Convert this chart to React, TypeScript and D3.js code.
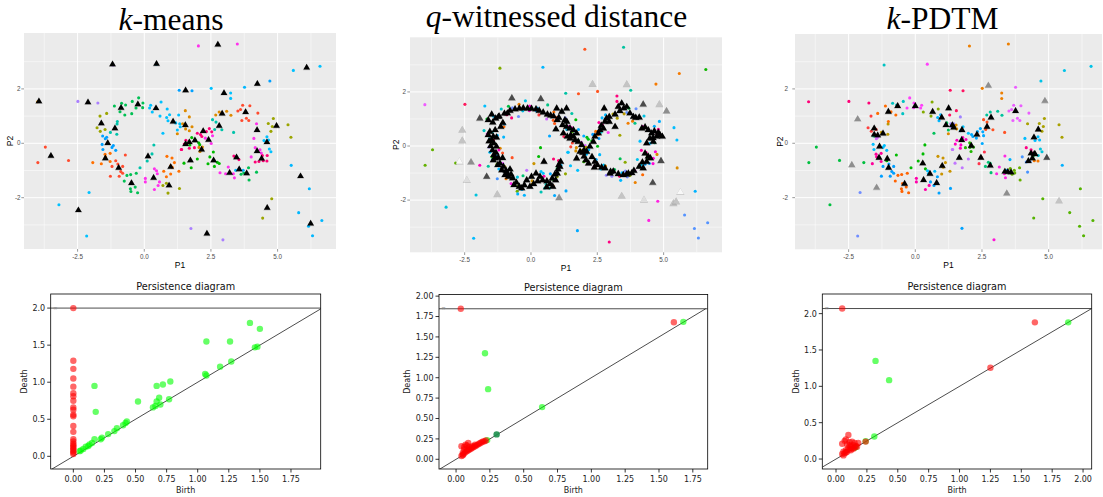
import React from 'react';
import * as d3 from 'd3';

// ggplot hue families used by the k-means labels (degrees in HCL)
const HUE: Record<string, number> = {
  sal: 15, ora: 40, gol: 58, oli: 75, lim: 100, gre: 135, eme: 158,
  tea: 185, cya: 215, blu: 245, lav: 275, mag: 300, pin: 335,
};

// Shared point cloud with its k-means cluster colour family
const points: [number, number, string][] = [
  [1.31, 1.95, 'lav'], [-2.49, 1.54, 'mag'], [-1.74, 1.48, 'mag'],
  [-1.12, 1.37, 'eme'], [-0.85, 1.47, 'eme'], [-0.70, 1.41, 'eme'], [-0.45, 1.54, 'eme'], [-0.21, 1.67, 'eme'],
  [-0.05, 1.48, 'eme'], [-0.31, 1.30, 'eme'], [-0.06, 1.31, 'eme'], [-0.91, 1.16, 'eme'], [-0.73, 1.04, 'eme'], [-0.47, 1.09, 'eme'],
  [0.24, 1.40, 'cya'], [0.20, 1.30, 'cya'], [0.30, 1.15, 'cya'], [0.63, 1.52, 'cya'], [0.86, 1.26, 'cya'], [0.95, 1.05, 'cya'],
  [0.59, 1.00, 'cya'], [0.84, 0.95, 'cya'], [0.89, 0.83, 'cya'], [1.29, 1.04, 'cya'], [1.18, 0.75, 'cya'], [1.33, 0.72, 'cya'],
  [1.35, 0.61, 'cya'], [1.24, 0.49, 'cya'], [0.70, 0.37, 'cya'],
  [1.24, 0.35, 'oli'],
  [-1.66, 1.00, 'lim'], [-1.41, 1.10, 'lim'], [-1.77, 0.57, 'lim'], [-1.65, 0.44, 'lim'], [-1.47, 0.51, 'lim'],
  [-1.01, 0.80, 'tea'], [-1.02, 0.71, 'tea'], [-1.03, 0.33, 'tea'], [-1.27, 0.40, 'tea'], [0.36, -0.06, 'tea'],
  [0.29, -0.39, 'tea'], [0.11, -0.65, 'tea'], [-0.16, -0.90, 'tea'],
  [-1.56, 0.27, 'lav'], [-1.41, 0.22, 'lav'], [-1.46, 0.17, 'lav'], [-1.58, -0.04, 'lav'], [-1.55, -0.23, 'lav'],
  [-1.16, -0.08, 'lav'], [-1.21, -0.15, 'lav'], [-1.07, -0.26, 'lav'],
  [-1.47, -0.40, 'gol'], [-1.28, -0.37, 'gol'], [-1.45, -0.50, 'gol'], [-1.28, -0.67, 'gol'], [-1.61, -0.75, 'gol'], [-1.93, -0.71, 'gol'],
  [-1.07, -0.64, 'ora'], [-0.99, -0.76, 'ora'], [-0.81, -0.85, 'ora'], [-1.21, -0.85, 'ora'], [-0.88, -1.04, 'ora'],
  [-0.81, -1.10, 'ora'], [-1.27, -1.21, 'ora'], [-0.94, -1.21, 'ora'], [-0.71, -0.43, 'ora'],
  [-3.71, -0.14, 'ora'], [-3.99, -0.71, 'ora'], [-2.84, -0.63, 'ora'],
  [-0.51, -1.15, 'eme'], [-0.65, -1.18, 'eme'], [-0.30, -1.10, 'eme'], [-0.75, -1.39, 'eme'], [-0.48, -1.48, 'eme'],
  [-0.52, -1.67, 'eme'], [-0.34, -1.61, 'eme'], [-0.50, -1.77, 'eme'], [-0.25, -1.82, 'eme'],
  [0.38, -0.94, 'pin'], [0.46, -1.01, 'pin'], [0.49, -1.12, 'pin'], [0.04, -1.29, 'pin'], [0.04, -1.42, 'pin'],
  [0.38, -1.70, 'pin'], [0.57, -1.42, 'pin'], [0.52, -1.55, 'pin'],
  [0.85, -0.48, 'gol'], [1.04, -0.54, 'gol'], [1.13, -0.71, 'gol'], [0.99, -0.83, 'gol'], [1.05, -0.88, 'gol'],
  [0.99, -1.13, 'gol'], [0.73, -1.03, 'gol'], [0.83, -1.23, 'gol'], [1.30, -1.03, 'gol'],
  [0.70, -1.55, 'lim'], [0.83, -1.47, 'lim'], [0.89, -1.83, 'lim'], [1.32, -1.66, 'lim'],
  [-2.07, -1.81, 'cya'], [-3.20, -2.26, 'cya'], [-2.16, -3.41, 'cya'],
  [1.39, -0.23, 'sal'],
  [2.03, 3.58, 'pin'], [3.49, 3.65, 'pin'],
  [5.59, 2.68, 'cya'], [6.59, 2.83, 'cya'],
  [4.71, 2.29, 'lav'], [3.76, 2.06, 'blu'], [1.79, 1.93, 'lav'],
  [2.51, 2.02, 'cya'], [3.24, 1.85, 'cya'], [3.24, 1.65, 'cya'],
  [1.54, 1.20, 'oli'], [1.69, 0.97, 'oli'],
  [3.69, 1.40, 'ora'], [3.96, 1.38, 'ora'], [3.61, 1.24, 'ora'], [3.51, 1.19, 'ora'], [4.26, 1.11, 'ora'],
  [3.66, 0.84, 'ora'], [3.83, 0.92, 'ora'], [3.92, 0.84, 'ora'],
  [2.68, 1.04, 'oli'], [2.81, 1.15, 'oli'], [3.09, 1.18, 'oli'], [3.25, 1.03, 'oli'],
  [2.56, 0.87, 'tea'], [2.69, 0.78, 'tea'], [2.64, 0.51, 'tea'], [2.91, 0.50, 'tea'], [3.35, 0.40, 'tea'],
  [1.44, 0.72, 'oli'], [1.53, 0.67, 'oli'], [1.79, 0.61, 'oli'], [1.69, 0.46, 'oli'], [1.55, 0.53, 'oli'],
  [1.99, 0.37, 'sal'], [2.11, 0.32, 'sal'], [2.44, 0.54, 'sal'], [2.53, 0.42, 'sal'], [2.33, 0.43, 'sal'],
  [2.16, 0.25, 'sal'], [1.56, 0.11, 'sal'], [1.50, -0.03, 'sal'], [1.88, -0.16, 'sal'], [1.69, -0.18, 'sal'], [1.40, -0.23, 'sal'],
  [2.29, 0.19, 'pin'], [2.56, 0.28, 'pin'], [2.51, -0.01, 'pin'],
  [1.78, 0.21, 'gre'], [1.90, 0.14, 'gre'], [2.04, 0.02, 'gre'], [2.08, -0.05, 'gre'], [1.71, -0.06, 'gre'],
  [2.05, -0.15, 'oli'], [2.18, -0.14, 'oli'], [2.09, -0.30, 'oli'],
  [2.59, -0.32, 'gre'], [2.46, -0.50, 'gre'], [1.99, -0.58, 'gre'], [1.76, -0.90, 'gre'], [1.49, -0.73, 'gre'],
  [2.39, -0.75, 'gre'], [2.63, -0.85, 'gre'], [2.74, -0.70, 'gre'], [2.81, -0.74, 'gre'],
  [3.63, -1.14, 'eme'], [3.73, -1.09, 'eme'], [3.91, -0.90, 'eme'], [3.93, -1.35, 'eme'], [4.21, -1.06, 'eme'],
  [3.43, -0.99, 'blu'], [3.56, -0.93, 'blu'], [3.71, -0.99, 'blu'],
  [3.15, -0.87, 'pin'], [2.84, -1.08, 'pin'], [3.05, -1.12, 'pin'], [3.34, -1.12, 'pin'], [3.38, -1.27, 'pin'],
  [4.01, -0.50, 'pin'], [4.16, -0.16, 'pin'], [4.34, -0.24, 'pin'], [4.39, -0.36, 'pin'],
  [3.36, -0.47, 'sal'], [3.55, -0.60, 'sal'], [4.16, -0.69, 'sal'], [4.30, -0.67, 'sal'], [4.46, -0.64, 'sal'],
  [4.60, -0.65, 'sal'], [4.43, -0.45, 'sal'], [4.61, -0.45, 'sal'],
  [4.21, 0.72, 'pin'], [4.11, 0.18, 'pin'],
  [4.65, 0.73, 'lim'], [4.84, 0.91, 'lim'], [4.80, 0.62, 'lim'], [4.75, 0.44, 'lim'], [5.39, 0.68, 'lim'], [5.50, 0.22, 'lim'],
  [4.60, 0.24, 'cya'], [4.49, 0.10, 'cya'], [4.66, 0.12, 'cya'], [4.69, -0.21, 'cya'], [4.75, -0.31, 'cya'],
  [5.51, -0.81, 'blu'], [6.19, -1.67, 'blu'], [5.79, -2.55, 'blu'], [6.66, -2.84, 'blu'], [6.16, -3.05, 'blu'], [6.31, -3.40, 'blu'],
  [4.78, -2.04, 'lim'], [4.44, -2.75, 'lim'],
  [1.75, -3.13, 'mag'], [2.95, -3.55, 'mag'],
  [-1.17, 2.88, 'mag'], [0.45, 2.91, 'cya'], [-4.0, 1.53, 'oli'],
];

const kmeansCenters: [number, number][] = [
  [-1.19, 2.90], [0.46, 2.92], [-3.95, 1.54], [-2.11, 1.51], [-0.24, 1.43], [-0.87, 1.30], [0.44, 1.29],
  [-1.61, 0.73], [-1.10, 0.55], [1.08, 0.80], [-1.37, 0.01], [-3.50, -0.46], [-1.46, -0.55], [0.14, -0.48],
  [-0.96, -0.90], [0.99, -0.87], [0.35, -1.27], [0.93, -1.55], [-0.48, -1.46], [-2.47, -2.46],
  [2.76, 3.63], [6.09, 2.78], [4.24, 2.19], [1.55, 1.95], [2.99, 1.85], [3.80, 1.15], [2.92, 1.09], [2.81, 0.64],
  [4.96, 0.64], [4.23, 0.49], [1.54, 0.67], [2.21, 0.45], [2.41, 0.13], [1.90, 0.11], [1.69, 0.04], [1.55, -0.03],
  [2.15, -0.23], [4.60, 0.04], [4.23, -0.29], [1.73, -0.63], [2.60, -0.63], [3.46, -0.52], [4.40, -0.56],
  [3.56, -0.96], [3.20, -1.09], [3.84, -1.10], [5.86, -1.21], [4.61, -2.37], [6.24, -2.95], [2.35, -3.32],
];

// [x, y, shade index] (0 = black ... 5 = white)
const witnessTriangles: [number, number, number][] = [
  [-0.89, 1.21, 0], [-0.79, 1.31, 0], [-0.60, 1.36, 0], [-0.44, 1.39, 0], [-0.29, 1.40, 0], [-0.13, 1.39, 0],
  [0.02, 1.38, 0], [0.19, 1.36, 0], [0.31, 1.31, 0], [0.46, 1.24, 0], [0.62, 1.17, 0], [0.74, 1.13, 0],
  [-1.48, 1.17, 0], [-1.33, 1.02, 0], [-1.44, 0.87, 0], [-1.06, 0.86, 0], [-1.14, 0.71, 0], [-1.55, 0.53, 0],
  [-1.61, 0.41, 0], [-1.42, 0.35, 0], [-1.30, 0.32, 0], [-1.48, 0.22, 0], [-1.40, 0.10, 0], [-1.52, 0.00, 0],
  [-1.30, -0.02, 0], [-1.45, -0.15, 0], [-1.32, -0.25, 0], [-1.40, -0.33, 0], [-1.23, -0.43, 0], [-1.07, -0.44, 0],
  [-1.42, -0.52, 0], [-1.17, -0.64, 0], [-1.04, -0.76, 0], [-1.10, -0.89, 0], [-0.94, -0.91, 0], [-0.79, -0.86, 0],
  [-0.98, -1.07, 0], [-0.85, -1.13, 0], [-0.69, -1.19, 0], [-0.64, -1.44, 0], [-0.44, -1.50, 0], [-0.35, -1.56, 0],
  [-0.04, -1.50, 0], [-0.16, -1.26, 0], [0.02, -1.13, 0], [0.19, -1.01, 0], [0.34, -1.13, 0], [0.44, -1.26, 0],
  [0.49, -0.58, 0], [0.72, -1.40, 0], [0.82, -1.50, 0], [0.59, -1.52, 0], [0.93, -1.26, 0], [0.99, -1.01, 0],
  [1.09, -0.76, 0], [1.12, -0.58, 0], [1.02, -0.86, 0],
  [1.28, 0.96, 0], [1.19, 0.78, 0], [1.34, 0.71, 0], [1.47, 0.65, 0], [1.60, 0.59, 0], [1.72, 0.47, 0],
  [1.66, 0.22, 0], [1.78, 0.16, 0], [1.91, 0.04, 0], [2.00, -0.15, 0], [2.10, -0.21, 0], [2.22, -0.02, 0],
  [2.35, 0.16, 0], [2.41, 0.35, 0], [2.54, 0.47, 0], [2.60, 0.59, 0], [2.73, 0.65, 0], [2.79, 0.90, 0],
  [2.85, 1.02, 0], [1.22, 0.47, 0], [1.37, 0.35, 0], [1.47, 0.28, 0], [1.85, -0.21, 0], [1.72, -0.46, 0],
  [2.00, -0.39, 0], [2.17, -0.64, 0], [0.94, 0.62, 0], [0.99, 0.96, 0], [1.34, 1.39, 0], [2.76, 1.39, 0],
  [3.17, 0.71, 0], [3.29, 1.45, 0], [3.42, 1.58, 0], [3.61, 1.45, 0], [3.73, 1.21, 0], [3.86, 1.08, 0],
  [4.08, 1.06, 0], [4.18, 0.65, 0], [4.42, 0.59, 0], [4.55, 0.47, 0], [4.48, 0.28, 0], [4.61, 0.16, 0],
  [4.74, 0.35, 0], [4.86, 0.41, 0], [4.36, 0.10, 0], [4.30, -0.27, 0], [4.42, -0.39, 0], [4.36, -0.58, 0],
  [4.23, -0.82, 0], [4.08, -0.76, 0], [3.88, -0.91, 0], [3.67, -1.01, 0], [3.48, -1.07, 0], [3.29, -1.03, 0],
  [3.10, -0.94, 0], [2.98, -1.01, 0], [2.79, -0.82, 0], [2.66, -0.79, 0], [2.39, -0.79, 0], [2.07, -0.52, 0],
  [2.41, -0.58, 0], [0.97, 1.39, 0], [1.16, 1.27, 0], [2.95, 1.08, 0], [3.17, 1.17, 0], [4.95, 0.35, 0], [4.80, 0.50, 0],
  [-1.61, 0.96, 0], [-1.23, 1.08, 0], [-1.35, 0.59, 0], [-1.58, 0.18, 0], [-1.35, -0.45, 0], [-1.25, -0.70, 0],
  [-0.90, -1.00, 0], [-0.75, -1.05, 0], [-0.55, -1.35, 0], [-0.25, -1.45, 0], [0.10, -1.40, 0], [0.25, -1.30, 0],
  [0.60, -1.30, 0], [0.80, -1.20, 0], [0.90, -1.05, 0], [1.05, -0.70, 0], [1.50, 0.40, 0], [1.60, 0.35, 0],
  [1.95, -0.25, 0], [2.30, -0.40, 0], [2.50, -0.70, 0], [3.00, -0.95, 0], [3.60, -1.05, 0], [3.80, -1.00, 0],
  [4.20, -0.60, 0], [4.50, -0.45, 0], [4.60, 0.30, 0], [4.65, 0.55, 0], [4.30, 0.70, 0], [3.95, 1.05, 0],
  [3.50, 1.40, 0], [3.35, 1.30, 0], [2.95, 0.90, 0], [2.65, 0.75, 0], [1.35, 0.90, 0], [1.05, 1.05, 0],
  [0.85, 1.10, 0], [-1.00, 1.20, 0], [-1.20, 1.10, 0],
  [-0.72, 1.77, 1], [0.37, 1.74, 1], [-1.93, 1.02, 1], [-1.67, -1.13, 1], [4.59, -1.36, 1], [4.90, -0.55, 1], [4.23, 1.54, 1],
  [-2.26, -0.60, 2], [5.11, 1.29, 2], [1.06, -1.92, 2],
  [2.32, 2.29, 3], [3.61, 2.28, 3], [-2.59, 0.59, 3], [-2.59, 0.20, 3], [-1.27, -1.79, 3], [3.42, -1.85, 3],
  [5.37, -2.12, 3], [5.47, -2.06, 3], [4.84, 1.54, 3],
  [-2.42, -1.26, 4], [4.26, -1.99, 4],
  [-2.70, -0.58, 5], [5.63, -1.71, 5],
];

const pdtmTriangles: [number, number, number][] = [
  [-2.16, 0.89, 2], [-2.38, -0.80, 2], [-1.45, -1.63, 2], [2.74, 2.12, 2], [4.86, 1.56, 2], [3.43, -1.84, 2],
  [5.39, -2.12, 3], [4.93, -0.53, 1],
  [-1.54, 0.55, 0], [-1.54, 0.32, 0], [-1.41, 0.29, 0], [-1.21, 0.36, 0], [-1.34, -0.12, 0], [-1.36, -0.53, 0],
  [-1.05, -0.57, 0], [-1.00, -0.90, 0], [-1.01, 1.16, 0], [-0.66, 1.37, 0], [0.00, 1.37, 0], [0.65, 1.16, 0],
  [0.99, 0.95, 0], [1.25, 1.29, 0], [1.15, 0.67, 0], [1.39, 0.67, 0], [1.44, 0.58, 0], [1.75, 0.49, 0],
  [1.74, 0.12, 0], [2.10, -0.09, 0], [2.31, 0.32, 0], [2.69, 0.61, 0], [2.84, 0.95, 0], [3.76, 1.19, 0],
  [4.61, 0.51, 0], [4.45, 0.22, 0], [4.34, -0.37, 0], [4.46, -0.39, 0], [4.24, -0.65, 0], [4.39, -0.55, 0],
  [4.49, -0.40, 0], [3.36, -1.04, 0], [3.59, -1.07, 0], [3.47, -1.05, 0], [2.46, -0.53, 0], [2.81, -0.82, 0],
  [1.65, -0.53, 0], [1.01, -0.83, 0], [0.55, -1.12, 0], [0.31, -1.35, 0], [0.28, -0.74, 0], [0.80, -1.46, 0],
  [-0.40, -1.49, 0],
];

const scatterXTicks = [-2.5, 0, 2.5, 5];
const scatterXLabels = ['-2.5', '0.0', '2.5', '5.0'];
const scatterXMinor = [-3.75, -1.25, 1.25, 3.75, 6.25];
const scatterYTicks = [-2, 0, 2];
const scatterYLabels = ['-2', '0', '2'];
const scatterYMinor = [-3, -1, 1, 3];

// Persistence diagrams: [birth, death]; Infinity = essential class
const pd1H0: [number, number][] = [
  [0, Infinity], [0, 1.29], [0, 1.18], [0, 1.05], [0, 0.94], [0, 0.85], [0, 0.81], [0, 0.75], [0, 0.66],
  [0, 0.63], [0, 0.56], [0, 0.54], [0, 0.41], [0, 0.33], [0, 0.23], [0, 0.20], [0, 0.17], [0, 0.15],
  [0, 0.13], [0, 0.11], [0, 0.09], [0, 0.07], [0, 0.05], [0, 0.03],
];
const pd1H1: [number, number][] = [
  [0.17, 0.95], [0.18, 0.60], [0.52, 0.74], [0.67, 0.95], [0.72, 0.97], [0.78, 1.01], [1.07, 1.55], [1.26, 1.55],
  [1.42, 1.80], [1.50, 1.72], [1.46, 1.47], [1.48, 1.48], [1.27, 1.28], [1.18, 1.21], [1.07, 1.09], [1.06, 1.11],
  [0.77, 0.77], [0.69, 0.79], [0.67, 0.74], [0.66, 0.68], [0.64, 0.66], [0.70, 0.70], [0.43, 0.47], [0.42, 0.45],
  [0.40, 0.42], [0.35, 0.38], [0.33, 0.34], [0.28, 0.30], [0.23, 0.25], [0.22, 0.23], [0.17, 0.23], [0.15, 0.18],
  [0.13, 0.16], [0.12, 0.14], [0.10, 0.13], [0.08, 0.10], [0.06, 0.08], [0.05, 0.07],
];
const pd2H0: [number, number][] = [
  [0.035, Infinity], [1.61, 1.68],
  [0.04, 0.16], [0.06, 0.15], [0.07, 0.18], [0.09, 0.20], [0.08, 0.17], [0.10, 0.15], [0.05, 0.08], [0.05, 0.05],
  [0.06, 0.07], [0.07, 0.09], [0.08, 0.10], [0.09, 0.11], [0.10, 0.12], [0.11, 0.13], [0.12, 0.14], [0.13, 0.15],
  [0.14, 0.16], [0.15, 0.17], [0.16, 0.18], [0.17, 0.19], [0.18, 0.20], [0.19, 0.21], [0.20, 0.22], [0.21, 0.22],
  [0.22, 0.23], [0.06, 0.12], [0.08, 0.13], [0.12, 0.16], [0.14, 0.18], [0.04, 0.04], [0.05, 0.06],
];
const pd2H1: [number, number][] = [[0.214, 1.30], [0.237, 0.86], [0.636, 0.64], [1.68, 1.685], [0.23, 0.235]];
const pd2H1dark: [number, number][] = [[0.30, 0.305]];
const pd3H0: [number, number][] = [
  [0.05, Infinity], [1.61, 1.88], [1.25, 1.255], [0.24, 0.24],
  [0.05, 0.21], [0.07, 0.25], [0.08, 0.27], [0.10, 0.33], [0.11, 0.23], [0.13, 0.24], [0.15, 0.22], [0.18, 0.22],
  [0.06, 0.10], [0.07, 0.08], [0.08, 0.12], [0.09, 0.10], [0.10, 0.15], [0.11, 0.13], [0.12, 0.17], [0.13, 0.15],
  [0.14, 0.19], [0.15, 0.16], [0.16, 0.18], [0.17, 0.17], [0.06, 0.05], [0.08, 0.09], [0.12, 0.12], [0.14, 0.14],
  [0.05, 0.07], [0.09, 0.20], [0.11, 0.19],
];
const pd3H1: [number, number][] = [[0.32, 1.35], [0.43, 1.085], [1.88, 1.88], [0.31, 0.31], [0.24, 0.245], [0.15, 0.155], [0.16, 0.165]];

const pdXTicks = [0, 0.25, 0.5, 0.75, 1.0, 1.25, 1.5, 1.75];
const pd3XTicks = [0, 0.25, 0.5, 0.75, 1.0, 1.25, 1.5, 1.75, 2.0];
const pdYTicksHalf = [0, 0.5, 1.0, 1.5, 2.0];
const pdYTicksQuarter = [0, 0.25, 0.5, 0.75, 1.0, 1.25, 1.5, 1.75, 2.0];

const SHADES = ['#000000', '#4a4a4a', '#8e8e8e', '#c4c4c4', '#dedede', '#f8f8f8'];
const SANS = 'Liberation Sans, Arial, sans-serif';
const DEJAVU = 'DejaVu Sans, sans-serif';
const SERIF = 'Liberation Serif, Times New Roman, serif';

const hueColor = (h: number) => d3.hcl(h, 100, 65).formatHex();

function nearestColors(tris: [number, number, number][]) {
  return points.map(([px, py]) => {
    let best = 0;
    let bd = Infinity;
    tris.forEach(([tx, ty], i) => {
      const d = (tx - px) ** 2 + (ty - py) ** 2;
      if (d < bd) { bd = d; best = i; }
    });
    return hueColor((15 + best * 137.508) % 360);
  });
}

type ScatterCfg = {
  id: string; L: number; R: number; T: number; B: number;
  xd: [number, number]; yd: [number, number];
  title: React.ReactNode; titleX: number; titleY: number;
  yLabRight: number; p2x: number; xTickBase: number; p1Base: number;
  triangles: [number, number, number][]; triSize: number; colors: string[];
};

function Scatter({ c }: { c: ScatterCfg }) {
  const x = d3.scaleLinear().domain(c.xd).range([c.L, c.R]);
  const y = d3.scaleLinear().domain(c.yd).range([c.B, c.T]);
  const tri = d3.symbol(d3.symbolTriangle, c.triSize)() || '';
  const triBack = d3.symbol(d3.symbolTriangle, c.triSize * 1.35)() || '';
  return (
    <g>
      <defs>
        <clipPath id={c.id}><rect x={c.L} y={c.T} width={c.R - c.L} height={c.B - c.T} /></clipPath>
      </defs>
      <rect x={c.L} y={c.T} width={c.R - c.L} height={c.B - c.T} fill="#EBEBEB" />
      <g clipPath={`url(#${c.id})`}>
        {scatterXMinor.map((v) => <line key={'xm' + v} x1={x(v)} x2={x(v)} y1={c.T} y2={c.B} stroke="#fff" strokeWidth={0.5} />)}
        {scatterYMinor.map((v) => <line key={'ym' + v} y1={y(v)} y2={y(v)} x1={c.L} x2={c.R} stroke="#fff" strokeWidth={0.5} />)}
        {scatterXTicks.map((v) => <line key={'xM' + v} x1={x(v)} x2={x(v)} y1={c.T} y2={c.B} stroke="#fff" strokeWidth={1} />)}
        {scatterYTicks.map((v) => <line key={'yM' + v} y1={y(v)} y2={y(v)} x1={c.L} x2={c.R} stroke="#fff" strokeWidth={1} />)}
        {points.map((p, i) => (
          <circle key={'p' + i} cx={x(p[0])} cy={y(p[1])} r={1.55} fill={c.colors[i]} />
        ))}
        {c.triangles.map((t, i) => (
          <g key={'t' + i} transform={`translate(${x(t[0])},${y(t[1])})`}>
            <path d={triBack} fill="#000" opacity={0.18} transform="translate(0,0.4)" />
            <path d={tri} fill={SHADES[t[2]]} />
          </g>
        ))}
      </g>
      {scatterXTicks.map((v, i) => (
        <g key={'xt' + v}>
          <line x1={x(v)} x2={x(v)} y1={c.B} y2={c.B + 2.7} stroke="#333" strokeWidth={0.5} />
          <text x={x(v)} y={c.xTickBase} fontSize={6.3} fill="#4D4D4D" fontFamily={SANS} textAnchor="middle">{scatterXLabels[i]}</text>
        </g>
      ))}
      {scatterYTicks.map((v, i) => (
        <g key={'yt' + v}>
          <line x1={c.L - 2.7} x2={c.L} y1={y(v)} y2={y(v)} stroke="#333" strokeWidth={0.5} />
          <text x={c.yLabRight} y={y(v) + 2.2} fontSize={6.3} fill="#4D4D4D" fontFamily={SANS} textAnchor="end">{scatterYLabels[i]}</text>
        </g>
      ))}
      <text x={(c.L + c.R) / 2} y={c.p1Base} fontSize={8.5} fontFamily={SANS} textAnchor="middle">P1</text>
      <text transform={`translate(${c.p2x},${(c.T + c.B) / 2}) rotate(-90)`} fontSize={8.5} fontFamily={SANS} textAnchor="middle" dominantBaseline="central">P2</text>
      <text x={c.titleX} y={c.titleY} fontSize={31.5} fontFamily={SERIF} textAnchor="middle">{c.title}</text>
    </g>
  );
}

type PDCfg = {
  id: string; L: number; R: number; T: number; B: number;
  xd: [number, number]; yd: [number, number]; inf: number;
  xTicks: number[]; yTicks: number[]; yFmt: string;
  h0: [number, number][]; h1: [number, number][]; dark?: [number, number][];
  deathX: number;
};

function PD({ c }: { c: PDCfg }) {
  const x = d3.scaleLinear().domain(c.xd).range([c.L, c.R]);
  const y = d3.scaleLinear().domain(c.yd).range([c.B, c.T]);
  const fy = d3.format(c.yFmt);
  const fx = d3.format('.2f');
  const dy = (d: number) => y(d === Infinity ? c.inf : d);
  const s = c.xd[0];
  return (
    <g>
      <defs>
        <clipPath id={c.id}><rect x={c.L} y={c.T} width={c.R - c.L} height={c.B - c.T} /></clipPath>
      </defs>
      <g clipPath={`url(#${c.id})`}>
        <line x1={x(s)} y1={y(s)} x2={x(c.inf)} y2={y(c.inf)} stroke="#000" strokeOpacity={0.7} strokeWidth={1} />
        <line x1={c.L} x2={c.R} y1={y(c.inf)} y2={y(c.inf)} stroke="#000" strokeOpacity={0.7} strokeWidth={1} />
        <text x={c.L + 2} y={y(c.inf) + 1.5} fontSize={6} fill="#888" fontFamily={DEJAVU}>∞</text>
        {c.h1.map((p, i) => <circle key={'g' + i} cx={x(p[0])} cy={dy(p[1])} r={3.2} fill="#00ff00" fillOpacity={0.6} />)}
        {(c.dark || []).map((p, i) => <circle key={'k' + i} cx={x(p[0])} cy={dy(p[1])} r={3.2} fill="#1b8f4c" fillOpacity={0.9} />)}
        {c.h0.map((p, i) => <circle key={'r' + i} cx={x(p[0])} cy={dy(p[1])} r={3.2} fill="#ff0000" fillOpacity={0.6} />)}
      </g>
      <rect x={c.L} y={c.T} width={c.R - c.L} height={c.B - c.T} fill="none" stroke="#000" strokeWidth={0.8} />
      {c.xTicks.map((v) => (
        <g key={'x' + v}>
          <line x1={x(v)} x2={x(v)} y1={c.B} y2={c.B + 3.5} stroke="#000" strokeWidth={0.8} />
          <text x={x(v)} y={c.B + 12.5} fontSize={8} fontFamily={DEJAVU} fill="#222" textAnchor="middle">{fx(v)}</text>
        </g>
      ))}
      {c.yTicks.map((v) => (
        <g key={'y' + v}>
          <line x1={c.L - 3.5} x2={c.L} y1={y(v)} y2={y(v)} stroke="#000" strokeWidth={0.8} />
          <text x={c.L - 5.5} y={y(v) + 2.9} fontSize={8} fontFamily={DEJAVU} fill="#222" textAnchor="end">{fy(v)}</text>
        </g>
      ))}
      <text x={(c.L + c.R) / 2} y={c.T - 4} fontSize={9.7} fontFamily={DEJAVU} fill="#111" textAnchor="middle">Persistence diagram</text>
      <text x={(c.L + c.R) / 2} y={493} fontSize={8} fontFamily={DEJAVU} fill="#222" textAnchor="middle">Birth</text>
      <text transform={`translate(${c.deathX},${(c.T + c.B) / 2}) rotate(-90)`} fontSize={8} fontFamily={DEJAVU} fill="#222" textAnchor="middle" dominantBaseline="central">Death</text>
    </g>
  );
}

export default function App() {
  const colors1 = points.map((p) => hueColor(HUE[p[2]]));
  const colors2 = nearestColors(witnessTriangles);
  const colors3 = nearestColors(pdtmTriangles);
  const kmTris: [number, number, number][] = kmeansCenters.map((p) => [p[0], p[1], 0]);

  const scatters: ScatterCfg[] = [
    {
      id: 'c1', L: 24, R: 336, T: 33, B: 249, xd: [-4.51, 7.19], yd: [-3.886, 4.055],
      title: <><tspan fontStyle="italic">k</tspan>-means</>, titleX: 171, titleY: 29.5,
      yLabRight: 20.5, p2x: 10, xTickBase: 258.5, p1Base: 268,
      triangles: kmTris, triSize: 19, colors: colors1,
    },
    {
      id: 'c2', L: 410, R: 722, T: 37.3, B: 252.3, xd: [-4.56, 7.2], yd: [-3.93, 4.02],
      title: <><tspan fontStyle="italic">q</tspan>-witnessed distance</>, titleX: 556.5, titleY: 27,
      yLabRight: 406, p2x: 396, xTickBase: 261.5, p1Base: 271,
      triangles: witnessTriangles, triSize: 22, colors: colors2,
    },
    {
      id: 'c3', L: 795, R: 1102, T: 34, B: 249.3, xd: [-4.51, 7.0], yd: [-3.90, 4.02],
      title: <><tspan fontStyle="italic">k</tspan>-PDTM</>, titleX: 942.5, titleY: 29,
      yLabRight: 788, p2x: 780, xTickBase: 258.5, p1Base: 268,
      triangles: pdtmTriangles, triSize: 20, colors: colors3,
    },
  ];

  const pds: PDCfg[] = [
    {
      id: 'd1', L: 50.7, R: 320.7, T: 294, B: 469, xd: [-0.182, 1.989], yd: [-0.171, 2.19], inf: 2.0,
      xTicks: pdXTicks, yTicks: pdYTicksHalf, yFmt: '.1f', h0: pd1H0, h1: pd1H1, deathX: 24,
    },
    {
      id: 'd2', L: 439, R: 707.7, T: 294.5, B: 469, xd: [-0.126, 1.86], yd: [-0.119, 2.02], inf: 1.845,
      xTicks: pdXTicks, yTicks: pdYTicksQuarter, yFmt: '.2f', h0: pd2H0, h1: pd2H1, dark: pd2H1dark, deathX: 407,
    },
    {
      id: 'd3', L: 822.3, R: 1091.7, T: 294, B: 469, xd: [-0.111, 2.07], yd: [-0.137, 2.27], inf: 2.07,
      xTicks: pd3XTicks, yTicks: pdYTicksHalf, yFmt: '.1f', h0: pd3H0, h1: pd3H1, deathX: 796,
    },
  ];

  return (
    <svg width={1103} height={497} style={{ position: 'absolute', left: 0, top: 0, background: '#fff' }}>
      <rect width={1103} height={497} fill="#fff" />
      {scatters.map((c) => <Scatter key={c.id} c={c} />)}
      {pds.map((c) => <PD key={c.id} c={c} />)}
    </svg>
  );
}
